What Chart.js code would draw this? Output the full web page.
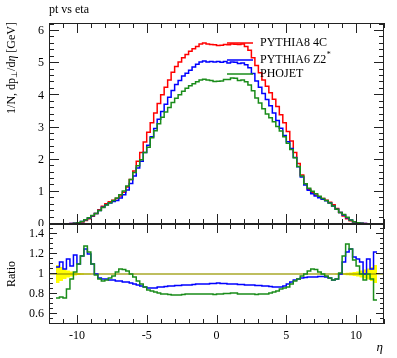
<!DOCTYPE html>
<html>
<head>
<meta charset="utf-8">
<script src="https://cdn.jsdelivr.net/npm/chart.js@4.4.1/dist/chart.umd.min.js"></script>
<style>
  html, body { margin: 0; padding: 0; background: #fff; }
  #wrap { position: relative; width: 397px; height: 358px; }
  canvas { position: absolute; left: 0; }
  #topPanel { top: 0; }
  #ratioPanel { top: 222px; }
</style>
</head>
<body>
<div id="wrap">
  <canvas id="topPanel" width="397" height="226"></canvas>
  <canvas id="ratioPanel" width="397" height="136"></canvas>
</div>
<script>
// binning: eta from -12 to 12 in 0.25 steps (96 bins)
const etaLow = -12;
const binWidth = 0.25;

const seriesLabels = ["PYTHIA8 4C", "PYTHIA6 Z2*", "PHOJET"];

// 1/N dpT/deta [GeV], one value per bin
const pythia8 = [
  0, 0, 0.002, 0.003, 0.005, 0.008, 0.012, 0.02,
  0.035, 0.065, 0.105, 0.16, 0.24, 0.33, 0.44, 0.55,
  0.63, 0.69, 0.74, 0.79, 0.87, 0.99, 1.15, 1.38,
  1.65, 1.95, 2.22, 2.55, 2.85, 3.15, 3.45, 3.75,
  4.02, 4.25, 4.48, 4.72, 4.9, 5.04, 5.17, 5.27,
  5.37, 5.45, 5.52, 5.6, 5.63, 5.6, 5.58, 5.57,
  5.55, 5.56, 5.58, 5.57, 5.6, 5.59, 5.58, 5.6,
  5.52, 5.4, 5.17, 4.93, 4.7, 4.48, 4.28, 4.08,
  3.88, 3.65, 3.4, 3.15, 2.88, 2.58, 2.22, 1.88,
  1.52, 1.25, 1.08, 0.97, 0.9, 0.84, 0.79, 0.74,
  0.68, 0.6, 0.48, 0.36, 0.25, 0.16, 0.1, 0.06,
  0.035, 0.02, 0.012, 0.008, 0.005, 0.003, 0.002, 0
];
const pythia6 = [
  0, 0, 0.002, 0.003, 0.005, 0.009, 0.013, 0.023,
  0.039, 0.077, 0.131, 0.19, 0.26, 0.33, 0.42, 0.52,
  0.6, 0.65, 0.7, 0.73, 0.81, 0.91, 1.06, 1.26,
  1.49, 1.74, 1.95, 2.22, 2.45, 2.71, 2.97, 3.26,
  3.5, 3.72, 3.94, 4.15, 4.34, 4.46, 4.6, 4.69,
  4.78, 4.88, 4.97, 5.04, 5.07, 5.04, 5.05, 5.04,
  5.05, 5.03, 5.05, 5.01, 5.04, 5.03, 4.99, 5.01,
  4.95, 4.86, 4.68, 4.45, 4.25, 4.06, 3.87, 3.68,
  3.45, 3.22, 2.98, 2.75, 2.56, 2.35, 2.07, 1.78,
  1.46, 1.21, 1.05, 0.94, 0.87, 0.82, 0.77, 0.72,
  0.65, 0.56, 0.46, 0.36, 0.28, 0.195, 0.125, 0.07,
  0.04, 0.022, 0.012, 0.009, 0.005, 0.004, 0.002, 0
];
const phojet = [
  0, 0, 0.0015, 0.0023, 0.004, 0.007, 0.011, 0.02,
  0.039, 0.077, 0.134, 0.195, 0.264, 0.327, 0.42, 0.51,
  0.59, 0.66, 0.73, 0.81, 0.91, 1.03, 1.18, 1.38,
  1.6, 1.81, 2.0, 2.22, 2.39, 2.68, 2.9, 3.12,
  3.32, 3.48, 3.62, 3.78, 3.91, 4.02, 4.13, 4.22,
  4.3, 4.36, 4.42, 4.48, 4.5, 4.48, 4.46, 4.43,
  4.44, 4.45, 4.49, 4.49, 4.54, 4.53, 4.46, 4.48,
  4.42, 4.32, 4.14, 3.92, 3.76, 3.58, 3.42, 3.3,
  3.18, 3.03, 2.89, 2.71, 2.51, 2.32, 2.06, 1.79,
  1.49, 1.25, 1.11, 1.02, 0.94, 0.86, 0.79, 0.73,
  0.65, 0.56, 0.46, 0.36, 0.295, 0.21, 0.125, 0.068,
  0.038, 0.02, 0.011, 0.008, 0.005, 0.002, 0.0015, 0
];

// ratio to PYTHIA8 4C (null where the reference is empty)
const ratioPythia6 = [
  null, null, 1.07, 1.12, 1.05, 1.15, 1.08, 1.19,
  1.1, 1.18, 1.25, 1.2, 1.1, 1.0, 0.96, 0.95,
  0.95, 0.94, 0.94, 0.93, 0.93, 0.92, 0.92, 0.91,
  0.9, 0.89, 0.88, 0.87, 0.86, 0.86, 0.86, 0.87,
  0.87, 0.875, 0.88, 0.88, 0.885, 0.885, 0.89, 0.89,
  0.89, 0.895, 0.9, 0.9, 0.9, 0.9, 0.905, 0.905,
  0.91, 0.905, 0.905, 0.9, 0.9, 0.9, 0.895, 0.895,
  0.89, 0.89, 0.89, 0.885, 0.885, 0.88, 0.88, 0.875,
  0.87, 0.87, 0.87, 0.88, 0.9, 0.92, 0.94, 0.95,
  0.96, 0.965, 0.97, 0.97, 0.97, 0.975, 0.975, 0.97,
  0.96, 0.94, 0.95, 1.0, 1.12, 1.22, 1.25, 1.17,
  1.15, 1.12, 1.0, 1.15, 1.05, 1.22, null, null
];
const ratioPhojet = [
  null, null, 0.76, 0.77, 0.76, 0.85, 0.95, 1.02,
  1.1, 1.18, 1.28, 1.22, 1.1, 0.99, 0.95, 0.93,
  0.94, 0.96, 0.98, 1.02, 1.05, 1.045, 1.03, 1.0,
  0.97, 0.93, 0.9, 0.87, 0.84, 0.83, 0.82, 0.81,
  0.8, 0.8, 0.795, 0.79, 0.79, 0.79, 0.795, 0.8,
  0.8, 0.8, 0.8, 0.8, 0.8, 0.8, 0.8, 0.795,
  0.8, 0.8, 0.805, 0.805, 0.81, 0.81, 0.8, 0.8,
  0.8, 0.8, 0.8, 0.795, 0.8, 0.8, 0.8, 0.81,
  0.82, 0.83, 0.85, 0.86, 0.87, 0.9, 0.93, 0.95,
  0.98, 1.0, 1.03, 1.05, 1.045, 1.02, 1.0, 0.98,
  0.96, 0.94, 0.95, 1.01, 1.18, 1.3, 1.25, 1.14,
  1.08, 1.0, 0.94, 1.0, 0.95, 0.74, null, null
];
// relative uncertainty of the reference (yellow band)
const refError = [
  null, null, 0.09, 0.07, 0.05, 0.035, 0.025, 0.015,
  0.01, 0.007, 0.005, 0.004, 0.003, 0.003, 0.003, 0.003,
  0.003, 0.003, 0.003, 0.003, 0.003, 0.003, 0.003, 0.003,
  0.003, 0.003, 0.003, 0.003, 0.003, 0.003, 0.003, 0.003,
  0.003, 0.003, 0.003, 0.003, 0.003, 0.003, 0.003, 0.003,
  0.003, 0.003, 0.003, 0.003, 0.003, 0.003, 0.003, 0.003,
  0.003, 0.003, 0.003, 0.003, 0.003, 0.003, 0.003, 0.003,
  0.003, 0.003, 0.003, 0.003, 0.003, 0.003, 0.003, 0.003,
  0.003, 0.003, 0.003, 0.003, 0.003, 0.003, 0.003, 0.003,
  0.003, 0.003, 0.003, 0.003, 0.003, 0.003, 0.003, 0.003,
  0.003, 0.003, 0.004, 0.006, 0.008, 0.012, 0.015, 0.02,
  0.025, 0.035, 0.045, 0.055, 0.07, 0.09, null, null
];

const yLabelsTop = [0, 1, 2, 3, 4, 5, 6];
const yLabelsRatio = [0.6, 0.8, 1, 1.2, 1.4];
const xLabels = [-10, -5, 0, 5, 10];

const colors = ["#ff0000", "#0000ff", "#1a8c1a"];
const FONT = '"Liberation Serif", "Times New Roman", serif';

// turn per-bin values into a step outline
function histPoints(vals) {
  const pts = [];
  vals.forEach((v, i) => {
    const lo = etaLow + i * binWidth;
    pts.push({ x: lo, y: v }, { x: lo + binWidth, y: v });
  });
  return pts;
}

// frame, inward ticks, tick labels
const panelFrame = {
  id: "panelFrame",
  afterDatasetsDraw(chart, args, o) {
    const { ctx, chartArea: a } = chart;
    const xs = chart.scales.x, ys = chart.scales.y;
    ctx.save();
    ctx.strokeStyle = "#222";
    ctx.lineWidth = 1;
    ctx.strokeRect(a.left + 0.5, a.top + 0.5, a.width - 1, a.height - 1);
    ctx.beginPath();
    for (let v = Math.ceil(xs.min); v <= xs.max; v++) {
      const px = Math.round(xs.getPixelForValue(v)) + 0.5;
      const len = v % 5 === 0 ? o.xMajor : o.xMinor;
      ctx.moveTo(px, a.bottom); ctx.lineTo(px, a.bottom - len);
      ctx.moveTo(px, a.top); ctx.lineTo(px, a.top + len);
    }
    const k0 = Math.ceil(ys.min / o.yStep - 1e-6), k1 = Math.floor(ys.max / o.yStep + 1e-6);
    for (let k = k0; k <= k1; k++) {
      const py = Math.round(ys.getPixelForValue(k * o.yStep)) - 0.5;
      const len = k % o.yEvery === 0 ? o.yMajor : o.yMinor;
      ctx.moveTo(a.left, py); ctx.lineTo(a.left + len, py);
      ctx.moveTo(a.right, py); ctx.lineTo(a.right - len, py);
    }
    ctx.stroke();

    ctx.fillStyle = "#000";
    ctx.font = "12px " + FONT;
    ctx.textAlign = "right";
    ctx.textBaseline = "middle";
    o.yLabels.forEach(v => ctx.fillText(String(v), a.left - 5, ys.getPixelForValue(v)));
    if (o.xLabels) {
      ctx.textAlign = "center";
      ctx.textBaseline = "top";
      o.xLabels.forEach(v => ctx.fillText(String(v), xs.getPixelForValue(v), a.bottom + 6));
    }
    if (o.extra) o.extra(chart, ctx, a);
    ctx.restore();
  }
};

function baseOptions(yMin, yMax, padding, frameOpts) {
  return {
    responsive: false,
    animation: false,
    layout: { padding },
    scales: {
      x: { type: "linear", min: -12, max: 12, display: false },
      y: { min: yMin, max: yMax, display: false }
    },
    elements: { point: { radius: 0 }, line: { tension: 0 } },
    plugins: {
      legend: { display: false },
      tooltip: { enabled: false },
      panelFrame: frameOpts
    }
  };
}

// top panel
new Chart(document.getElementById("topPanel"), {
  type: "line",
  data: {
    datasets: [pythia8, pythia6, phojet].map((vals, i) => ({
      label: seriesLabels[i],
      data: histPoints(vals),
      borderColor: colors[i],
      borderWidth: 1.5,
      fill: false,
      order: 3 - i
    }))
  },
  options: baseOptions(0, 6.25, { left: 49, right: 13, top: 23, bottom: 2 }, {
    xMajor: 10, xMinor: 5, yStep: 0.2, yEvery: 5, yMajor: 10, yMinor: 5,
    yLabels: yLabelsTop,
    extra(chart, ctx, a) {
      ctx.textAlign = "left";
      ctx.textBaseline = "middle";
      ctx.font = "12px " + FONT;
      ctx.fillText("pt vs eta", 49, 10);

      // legend
      const legendY = [43, 60, 74];
      chart.data.datasets.forEach((ds, i) => {
        ctx.strokeStyle = ds.borderColor;
        ctx.lineWidth = 1.5;
        ctx.beginPath();
        ctx.moveTo(227, legendY[i]);
        ctx.lineTo(253, legendY[i]);
        ctx.stroke();
        ctx.fillStyle = "#000";
        ctx.font = "12px " + FONT;
        let txt = ds.label, sup = "";
        if (txt.endsWith("*")) { txt = txt.slice(0, -1); sup = "*"; }
        ctx.fillText(txt, 260, legendY[i]);
        if (sup) {
          const w = ctx.measureText(txt).width;
          ctx.font = "8px " + FONT;
          ctx.fillText(sup, 260 + w + 0.5, legendY[i] - 5);
        }
      });

      // y title, rotated, ending at the top of the frame
      const parts = [
        ["1/N, dp", "12px " + FONT, 0],
        ["\u22a5", "8px " + FONT, 3],
        ["/d", "12px " + FONT, 0],
        ["\u03b7", "italic 12px " + FONT, 0],
        [" [GeV]", "12px " + FONT, 0]
      ];
      ctx.save();
      ctx.translate(12, 22);
      ctx.rotate(-Math.PI / 2);
      ctx.textAlign = "left";
      let total = 0;
      parts.forEach(p => { ctx.font = p[1]; total += ctx.measureText(p[0]).width; });
      let xp = -total;
      parts.forEach(p => {
        ctx.font = p[1];
        ctx.fillText(p[0], xp, p[2]);
        xp += ctx.measureText(p[0]).width;
      });
      ctx.restore();
    }
  }),
  plugins: [panelFrame]
});

// ratio panel
const bandUpper = refError.map(e => (e == null ? null : 1 + e));
const bandLower = refError.map(e => (e == null ? null : 1 - e));

new Chart(document.getElementById("ratioPanel"), {
  type: "line",
  data: {
    datasets: [
      { data: histPoints(bandUpper), borderWidth: 0, borderColor: "rgba(0,0,0,0)",
        backgroundColor: "#ffff00", fill: "+1", order: 10 },
      { data: histPoints(bandLower), borderWidth: 0, borderColor: "rgba(0,0,0,0)",
        fill: false, order: 11 },
      { data: histPoints(pythia8.map(() => 1)), borderColor: "#7f7f00", borderWidth: 1.2,
        fill: false, order: 5 },
      { data: histPoints(ratioPythia6), borderColor: colors[1], borderWidth: 1.5,
        fill: false, order: 2 },
      { data: histPoints(ratioPhojet), borderColor: colors[2], borderWidth: 1.5,
        fill: false, order: 1 }
    ]
  },
  options: baseOptions(0.5, 1.5, { left: 49, right: 13, top: 2, bottom: 34 }, {
    xMajor: 9, xMinor: 5, yStep: 0.05, yEvery: 4, yMajor: 8, yMinor: 4,
    yLabels: yLabelsRatio,
    xLabels: xLabels,
    extra(chart, ctx, a) {
      ctx.save();
      ctx.font = "12px " + FONT;
      ctx.textAlign = "center";
      ctx.textBaseline = "middle";
      ctx.translate(12, chart.scales.y.getPixelForValue(1));
      ctx.rotate(-Math.PI / 2);
      ctx.fillText("Ratio", 0, 0);
      ctx.restore();
      ctx.font = "italic 13px " + FONT;
      ctx.textAlign = "right";
      ctx.textBaseline = "middle";
      ctx.fillText("\u03b7", a.right - 1, a.bottom + 24);
    }
  }),
  plugins: [panelFrame]
});
</script>
</body>
</html>
